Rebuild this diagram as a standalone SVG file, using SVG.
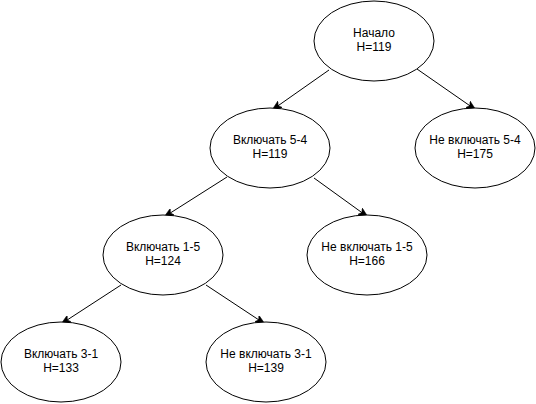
<svg xmlns="http://www.w3.org/2000/svg" width="536" height="404" viewBox="0 0 536 404">
<style>
  .node ellipse { fill: #ffffff; stroke: #000000; stroke-width: 1; }
  .node text { font-family: "Liberation Sans", Arial, sans-serif; font-size: 12px; fill: #000000; text-anchor: middle; }
  .edge { stroke: #000000; stroke-width: 1; fill: none; marker-end: url(#arrow); }
</style>
<defs>
  <marker id="arrow" viewBox="0 0 10 8" refX="10" refY="4" markerWidth="10" markerHeight="8" markerUnits="userSpaceOnUse" orient="auto">
    <path d="M0,0 L10,4 L0,8 L2.5,4 z" fill="#000000" stroke="#000000" stroke-width="0.5"/>
  </marker>
</defs>
<rect width="536" height="404" fill="#ffffff"/>
<g id="connectors">
  <line class="edge" x1="329" y1="70" x2="272" y2="110"/>
  <line class="edge" x1="417" y1="69" x2="476" y2="110"/>
  <line class="edge" x1="227" y1="177" x2="164" y2="217"/>
  <line class="edge" x1="314" y1="178" x2="368" y2="217"/>
  <line class="edge" x1="121" y1="285" x2="61" y2="324"/>
  <line class="edge" x1="206" y1="285" x2="265" y2="324"/>
</g>
<g id="node-start" class="node">
  <ellipse cx="374" cy="41" rx="60" ry="40"/>
  <text x="374" y="37">Начало</text>
  <text x="374" y="51">H=119</text>
</g>
<g id="node-inc-5-4" class="node">
  <ellipse cx="270" cy="148" rx="60" ry="40"/>
  <text x="270" y="144">Включать 5-4</text>
  <text x="270" y="158">H=119</text>
</g>
<g id="node-exc-5-4" class="node">
  <ellipse cx="475" cy="148" rx="60" ry="40"/>
  <text x="475" y="144">Не включать 5-4</text>
  <text x="475" y="158">H=175</text>
</g>
<g id="node-inc-1-5" class="node">
  <ellipse cx="163" cy="255" rx="60" ry="40"/>
  <text x="163" y="251">Включать 1-5</text>
  <text x="163" y="265">H=124</text>
</g>
<g id="node-exc-1-5" class="node">
  <ellipse cx="367" cy="255" rx="60" ry="40"/>
  <text x="367" y="251">Не включать 1-5</text>
  <text x="367" y="265">H=166</text>
</g>
<g id="node-inc-3-1" class="node">
  <ellipse cx="61" cy="362" rx="60" ry="40"/>
  <text x="61" y="358">Включать 3-1</text>
  <text x="61" y="372">H=133</text>
</g>
<g id="node-exc-3-1" class="node">
  <ellipse cx="266" cy="362" rx="60" ry="40"/>
  <text x="266" y="358">Не включать 3-1</text>
  <text x="266" y="372">H=139</text>
</g>
</svg>
